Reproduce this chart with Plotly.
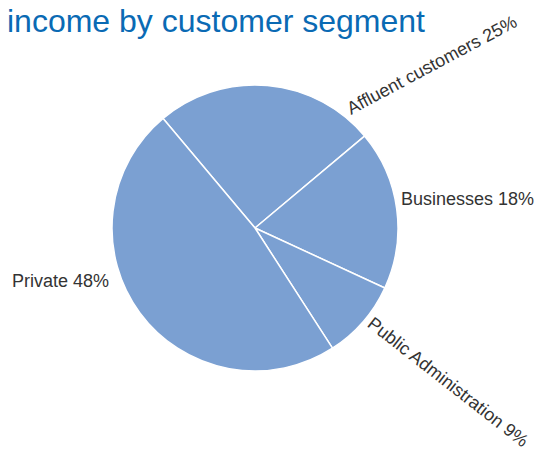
import plotly.graph_objects as go

# Income share by customer segment (percent)
segments = ["Affluent customers", "Businesses", "Public Administration", "Private"]
shares = [25, 18, 9, 48]

# Label placement (pixel centres in a 534x450 canvas) and rotation per segment
label_px = [(432, 65), (467, 199), (448, 382), (60, 281)]
label_angle = [-28, 0, 38, 0]

W, H = 534, 450
cx, cy, r = 255, 228, 143

fig = go.Figure(
    go.Pie(
        labels=segments,
        values=shares,
        sort=False,
        direction="clockwise",
        rotation=-40,
        textinfo="none",
        hoverinfo="label+percent",
        marker=dict(colors=["#7ba0d2"] * len(segments), line=dict(color="white", width=1.5)),
        domain=dict(x=[(cx - r) / W, (cx + r) / W],
                    y=[(H - cy - r) / H, (H - cy + r) / H]),
        showlegend=False,
    )
)

for name, val, (px, py), ang in zip(segments, shares, label_px, label_angle):
    fig.add_annotation(
        x=px / W, y=1 - py / H, xref="paper", yref="paper",
        text=f"{name} {val}%", showarrow=False, textangle=ang,
        xanchor="center", yanchor="middle",
        font=dict(family="Liberation Sans, Arial, sans-serif", size=18, color="#333333"),
    )

fig.update_layout(
    width=W, height=H,
    margin=dict(l=0, r=0, t=0, b=0),
    paper_bgcolor="white", plot_bgcolor="white",
    title=dict(text="income by customer segment", x=7 / W, xanchor="left",
               y=1 - 21 / H, yanchor="middle", xref="container", yref="container",
               font=dict(family="Liberation Sans, Arial, sans-serif", size=32, color="#0a6ab4")),
)

fig.write_html("out.html")
